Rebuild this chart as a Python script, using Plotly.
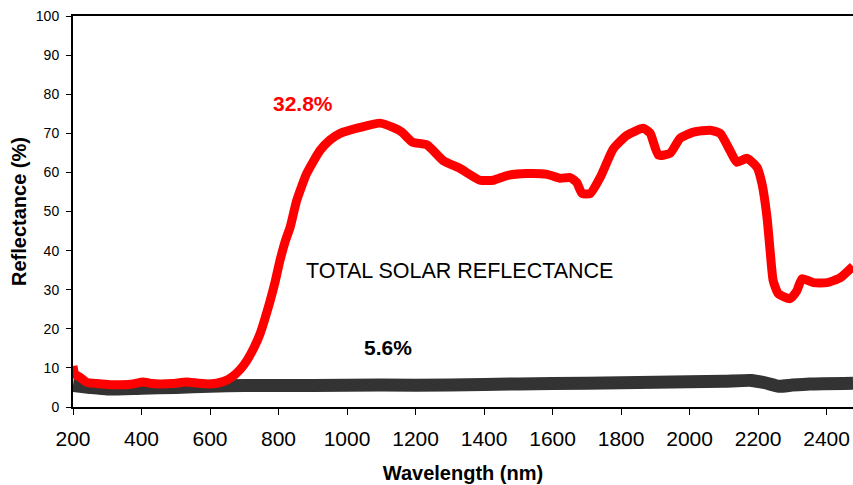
import plotly.graph_objects as go

red_wl = [200, 205, 220, 240, 270, 308, 340, 375, 404, 430, 454, 490, 532, 565, 600, 638, 660, 688,
          707, 730, 746, 760, 775, 790, 804, 820, 834, 853, 882, 921, 950, 980, 1038, 1096, 1134,
          1160, 1190, 1234, 1281, 1330, 1388, 1427, 1467, 1525, 1584, 1622, 1651, 1670, 1686, 1710,
          1739, 1777, 1817, 1865, 1885, 1909, 1943, 1972, 2011, 2060, 2089, 2118, 2138, 2168, 2197,
          2211, 2226, 2235, 2244, 2259, 2293, 2313, 2328, 2361, 2401, 2439, 2477]
red_refl = [10.5, 8.5, 7.6, 6.3, 6.0, 5.7, 5.7, 5.9, 6.4, 6.0, 5.9, 6.0, 6.4, 6.1, 5.9, 6.5, 7.4, 9.6,
            11.8, 15.5, 18.7, 22.5, 27, 32, 37.4, 42.5, 46, 52.8, 59.7, 65.6, 68.3, 70, 71.5, 72.6, 71.5,
            70.3, 67.8, 67, 63, 61, 58, 58, 59.2, 59.7, 59.5, 58.5, 58.7, 57.5, 54.6, 54.6,
            58.7, 66, 69.5, 71.3, 70, 64.4, 64.9, 68.7, 70.3, 70.8, 70, 65.6, 62.6, 63.6, 61.3,
            57.2, 48.5, 40, 32.3, 29, 27.7, 29.7, 32.8, 31.8, 31.8, 33, 36]

black_wl = [200, 250, 300, 400, 500, 600, 700, 900, 1100, 1300, 1500, 1700, 1900, 2100, 2180, 2220,
            2260, 2300, 2350, 2477]
black_refl = [5.5, 5.0, 4.6, 4.8, 5.0, 5.3, 5.5, 5.5, 5.6, 5.6, 5.9, 6.1, 6.3, 6.6, 6.8, 6.2,
              5.3, 5.6, 5.9, 6.1]

x_ticks = [200, 400, 600, 800, 1000, 1200, 1400, 1600, 1800, 2000, 2200, 2400]
y_ticks = [0, 10, 20, 30, 40, 50, 60, 70, 80, 90, 100]

FONT = "Liberation Sans, Arial, sans-serif"

fig = go.Figure()
fig.add_trace(go.Scatter(x=black_wl, y=black_refl, mode="lines",
                         line=dict(color="#333333", width=13, shape="spline", smoothing=0.5),
                         showlegend=False, hoverinfo="skip"))
fig.add_trace(go.Scatter(x=red_wl, y=red_refl, mode="lines",
                         line=dict(color="#ff0000", width=9, shape="spline", smoothing=0.5),
                         showlegend=False, hoverinfo="skip"))

fig.add_annotation(x=871, y=77.7, text="<b>32.8%</b>", showarrow=False,
                   font=dict(family=FONT, size=21, color="#ff0000"))
fig.add_annotation(x=1328, y=34.9, text="TOTAL SOLAR REFLECTANCE", showarrow=False,
                   font=dict(family=FONT, size=21.5, color="#000000"))
fig.add_annotation(x=1120, y=15.1, text="<b>5.6%</b>", showarrow=False,
                   font=dict(family=FONT, size=21, color="#000000"))

fig.update_layout(
    width=853, height=485,
    margin=dict(l=73, r=0, t=16, b=78),
    paper_bgcolor="white", plot_bgcolor="white",
    font=dict(family=FONT, color="black"),
    xaxis=dict(range=[200, 2477], tickvals=x_ticks, ticktext=[str(v) for v in x_ticks],
               automargin=False,
               showgrid=False, zeroline=False, showline=True, linecolor="black", linewidth=2,
               mirror=True, ticks="outside", ticklen=6, tickwidth=1, tickcolor="black",
               tickfont=dict(family=FONT, size=21, color="black"), ticklabelstandoff=6,
               title=dict(text="<b>Wavelength (nm)</b>", font=dict(family=FONT, size=20),
                          standoff=17)),
    yaxis=dict(range=[0, 100], tickvals=y_ticks, showgrid=False, zeroline=False,
               automargin=False,
               showline=True, linecolor="black", linewidth=2,
               ticks="outside", ticklen=5, tickwidth=1, tickcolor="black",
               tickfont=dict(family=FONT, size=14, color="black"), ticklabelstandoff=4,
               title=dict(text="<b>Reflectance (%)</b>", font=dict(family=FONT, size=20),
                          standoff=4)),
)

fig.write_html("out.html", config={"displayModeBar": False},
               post_script="document.body.style.margin='0';document.body.style.overflow='hidden';")
